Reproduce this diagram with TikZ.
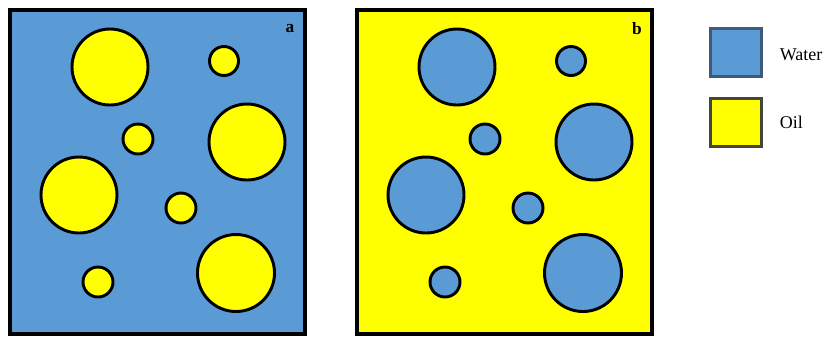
\documentclass[tikz,border=0pt]{standalone}
\usepackage{fontspec}
\setmainfont{Liberation Serif}
\usetikzlibrary{positioning}
\definecolor{agua}{HTML}{5B9BD5}
\definecolor{aceite}{HTML}{FFFF00}
\definecolor{bordeagua}{HTML}{41597A}
\definecolor{bordeaceite}{HTML}{45453A}

\begin{document}
\begin{tikzpicture}[x=0.75pt, y=-0.75pt,
    panel/.style={draw=black, line width=2.4pt},
    gota/.style={draw=black, line width=2.2pt},
    muestra/.style={rectangle, line width=2.4pt, minimum width=38pt, minimum height=36pt, inner sep=0pt},
    etiqueta/.style={font=\fontsize{13.5}{16}\selectfont, inner sep=0pt},
    letra/.style={font=\fontsize{13}{15}\selectfont\bfseries, inner sep=0pt}]

  \useasboundingbox (0,0) rectangle (831,337);

  % Paneles (a: agua con gotas de aceite, b: aceite con gotas de agua)
  \foreach \dx/\fondo/\relleno/\nombre in {0/agua/aceite/a, 347/aceite/agua/b}{
    \begin{scope}[shift={(\dx,0)}]
      \draw[panel, fill=\fondo] (10,10) rectangle (305,334);
      \foreach \cx/\cy/\r in {110/67/38, 224/61/14.5, 138/139/15, 247/142/38,
                              79/195/38, 181/208/15, 98/282/15, 236/273/38.5}
        \draw[gota, fill=\relleno] (\cx,\cy) circle[radius=\r];
      \node[letra] (label-\nombre) at (290,29) {\nombre};
    \end{scope}
  }

  % Leyenda
  \node[muestra, draw=bordeagua, fill=agua] (water) at (736,52.5) {};
  \node[muestra, draw=bordeaceite, fill=aceite, below=14pt of water] (oil) {};
  \node[etiqueta, right=12.5pt of water, yshift=-1.5pt] (water-label) {Water};
  \node[etiqueta, right=12.5pt of oil] (oil-label) {Oil};

\end{tikzpicture}
\end{document}
